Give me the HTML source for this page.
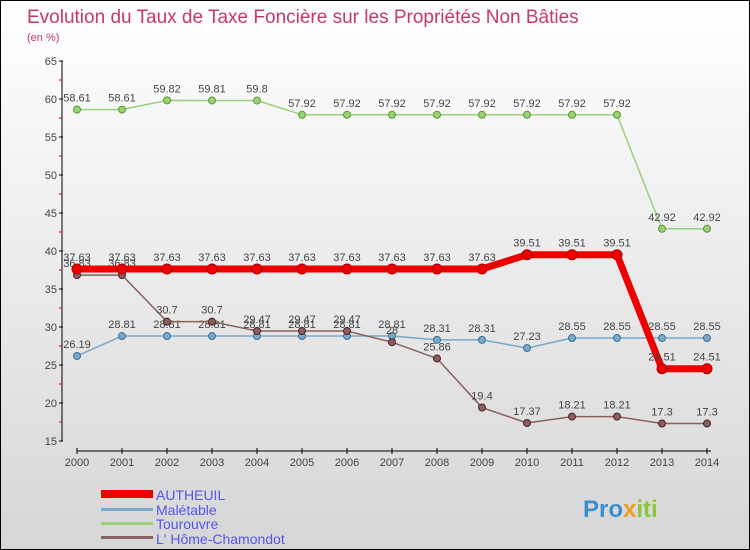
<!DOCTYPE html>
<html><head><meta charset="utf-8"><style>
body{margin:0}
#c{width:750px;height:550px;position:relative;box-sizing:border-box;border:1px solid #000;background:linear-gradient(#fff,#d6d6d6);font-family:"Liberation Sans",sans-serif;overflow:hidden}
svg text{font-family:"Liberation Sans",sans-serif}
</style></head><body>
<div id="c">
<svg id="s" width="750" height="550">
<text x="26" y="22" font-size="19" fill="#c8376a">Evolution du Taux de Taxe Foncière sur les Propriétés Non Bâties</text>
<text x="26" y="40" font-size="11" fill="#c8376a">(en %)</text>
<g id="axes"></g><g id="plot"></g>
<g>
<rect x="100" y="489" width="52" height="8" fill="#e00"/>
<text x="155" y="499" font-size="14" fill="#5555ee">AUTHEUIL</text>
<rect x="100" y="507" width="52" height="3" fill="#7aa8c8"/>
<text x="155" y="514" font-size="14" fill="#5555ee">Malétable</text>
<rect x="100" y="521" width="52" height="3" fill="#9bd07a"/>
<text x="155" y="528" font-size="14" fill="#5555ee">Tourouvre</text>
<rect x="100" y="535" width="52" height="3" fill="#8a5f5f"/>
<text x="155" y="543" font-size="14" fill="#5555ee">L' Hôme-Chamondot</text>
</g>
<text x="582" y="516" font-size="24" font-weight="bold" fill="#3a8fd0">Pro<tspan fill="#f0a020">x</tspan><tspan fill="#8cc63f">iti</tspan></text>
</svg></div>
<script>
const years=[2000,2001,2002,2003,2004,2005,2006,2007,2008,2009,2010,2011,2012,2013,2014];
const yTicks=[15,20,25,30,35,40,45,50,55,60,65];
const autheuil=[37.63,37.63,37.63,37.63,37.63,37.63,37.63,37.63,37.63,37.63,39.51,39.51,39.51,24.51,24.51];
const maletable=[26.19,28.81,28.81,28.81,28.81,28.81,28.81,28.81,28.31,28.31,27.23,28.55,28.55,28.55,28.55];
const tourouvre=[58.61,58.61,59.82,59.81,59.8,57.92,57.92,57.92,57.92,57.92,57.92,57.92,57.92,42.92,42.92];
const lhome=[36.83,36.83,30.7,30.7,29.47,29.47,29.47,28,25.86,19.4,17.37,18.21,18.21,17.3,17.3];
const NS="http://www.w3.org/2000/svg";
const X=i=>76+i*45, Y=v=>440-(v-15)*7.6;
function mk(t,a,p){const e=document.createElementNS(NS,t);for(const k in a)e.setAttribute(k,a[k]);p.appendChild(e);return e;}
const ax=document.getElementById('axes'), pl=document.getElementById('plot');
let e=mk('line',{x1:61,y1:60,x2:61,y2:440,stroke:'#000'},ax);


e=mk('line',{x1:76,y1:450,x2:710,y2:450,stroke:'#000'},ax);


yTicks.forEach((v,i)=>{mk('line',{x1:58,y1:Y(v),x2:62,y2:Y(v),stroke:'#000'},ax);
 if(i<yTicks.length-1)mk('line',{x1:58,y1:Y(v+2.5),x2:61,y2:Y(v+2.5),stroke:'#d00'},ax);
 const t=mk('text',{x:56,y:Y(v)+4,'font-size':11,fill:'#444','text-anchor':'end'},ax);t.textContent=v;
 
 });
years.forEach((y,i)=>{mk('line',{x1:X(i),y1:447,x2:X(i),y2:453,stroke:'#000'},ax);
 const t=mk('text',{x:X(i),y:465,'font-size':11,fill:'#444','text-anchor':'middle'},ax);t.textContent=y;
 
 });
function series(d,name,col,w,dot,dotStroke){
 const g=mk('g',{},pl);
 
 
 mk('polyline',{points:d.map((v,i)=>X(i)+','+Y(v)).join(' '),fill:'none',stroke:col,'stroke-width':w},g);
 d.forEach((v,i)=>{const c=mk('circle',{cx:X(i),cy:Y(v),r:dot,fill:col,stroke:dotStroke,'stroke-width':1},g);
  
  
  const t=mk('text',{x:X(i),y:Y(v)-8,'font-size':11,fill:'#444','text-anchor':'middle'},g);t.textContent=v;
  
  });
}
series(tourouvre,'tourouvre','#9bd07a',1.5,3.5,'#5a9a30');
series(maletable,'maletable','#7aa8c8',1.5,3.5,'#3a6f98');
series(lhome,'lhome','#8a5f5f',1.5,3.5,'#4a1f1f');
series(autheuil,'autheuil','#ee0000',7,5,'#a00');
</script>
</body></html>
